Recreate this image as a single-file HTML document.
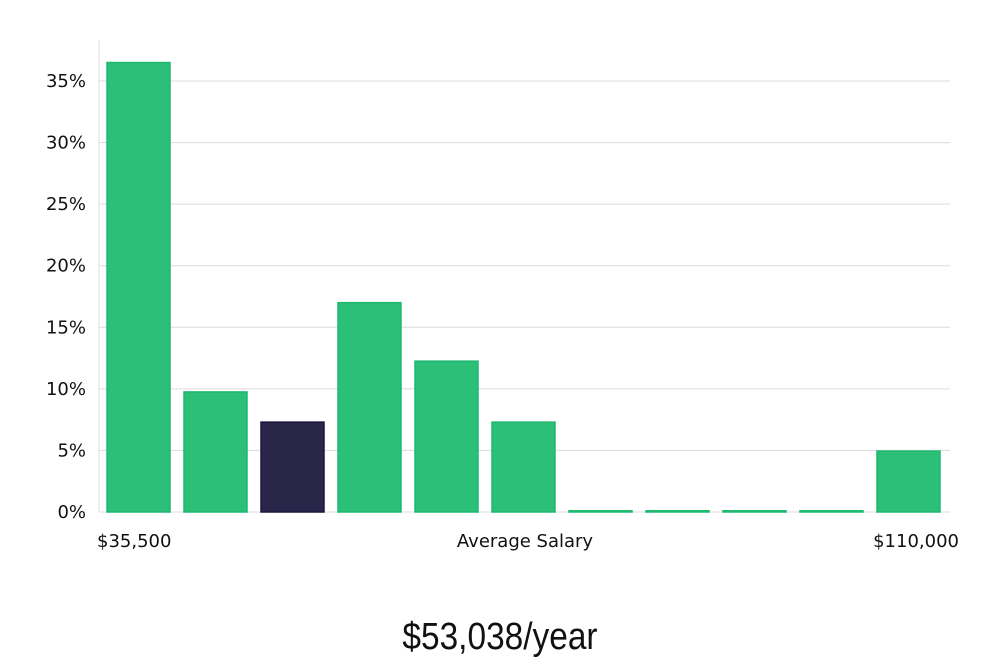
<!DOCTYPE html>
<html><head><meta charset="utf-8"><style>
html,body{margin:0;padding:0;background:#fff;}
body{width:1000px;height:660px;overflow:hidden;font-family:"DejaVu Sans","Liberation Sans",sans-serif;}
</style></head><body>
<svg id="chart" width="1000" height="660" xmlns="http://www.w3.org/2000/svg"></svg>
<script>
const categories = ["b1","b2","b3","b4","b5","b6","b7","b8","b9","b10","b11"];
const values = [36.5, 9.75, 7.3, 17.0, 12.25, 7.3, 0.1, 0.1, 0.1, 0.1, 4.95];
const highlight = [false,false,true,false,false,false,false,false,false,false,false];
const yTicks = [0,5,10,15,20,25,30,35];
const yTickLabels = ["0%","5%","10%","15%","20%","25%","30%","35%"];
const xLabels = ["$35,500","Average Salary","$110,000"];
const title = "$53,038/year";

const svg = document.getElementById('chart');
const NS = "http://www.w3.org/2000/svg";
const x0 = 99, x1 = 950, yZero = 512, yTop = 40;
const pxPer = (512 - 81) / 35;
function y(v){ return yZero - v * pxPer; }
const step = (x1 - 103) / categories.length;
function xb(i){ return 107 + i * step; }
const bw = 63;
function mk(tag, attrs){ const e = document.createElementNS(NS, tag); for (const k in attrs) e.setAttribute(k, attrs[k]); svg.appendChild(e); return e; }

const ax = mk('line',{x1:x0,y1:yTop,x2:x0,y2:yZero,stroke:'#ddd','stroke-width':1});


yTicks.forEach((t,i)=>{
  if (t>0){
    const g = mk('line',{x1:x0,y1:y(t),x2:x1,y2:y(t),stroke:'#dcdcdc','stroke-width':1});
    
    
  }
  const tx = mk('text',{x:86,y:y(t)+6,'text-anchor':'end','font-size':18,fill:'#111'});
  tx.textContent = yTickLabels[i];
  
  
});
const base = mk('line',{x1:x0,y1:yZero,x2:x1,y2:yZero,stroke:'#ddd','stroke-width':1});


values.forEach((v,i)=>{
  const top = y(v);
  const r = mk('rect',{x:xb(i),y:top,width:bw,height:Math.max(1,yZero-top),
    fill: highlight[i] ? '#29264a' : '#2bbf77', stroke: highlight[i] ? '#1b1740' : '#1fb870','stroke-width':1.5});
  
  
});
const xl = [[97,'start'],[525,'middle'],[959,'end']];
xLabels.forEach((s,i)=>{
  const t = mk('text',{x:xl[i][0],y:547,'text-anchor':xl[i][1],'font-size':18,fill:'#111'});
  t.textContent = s;
  
  
});
const tt = mk('text',{x:500,y:649,'text-anchor':'middle','font-size':38,fill:'#111','font-family':'"Liberation Sans",sans-serif',transform:'translate(500 0) scale(0.88 1) translate(-500 0)'});
tt.textContent = title;


</script>
</body></html>
